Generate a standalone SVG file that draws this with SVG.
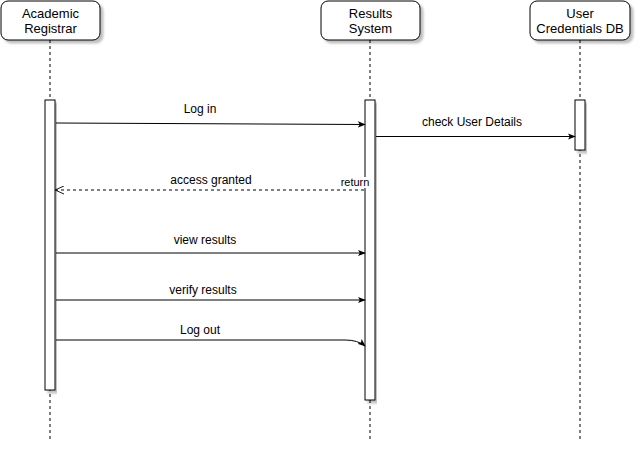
<svg xmlns="http://www.w3.org/2000/svg" width="642" height="452" viewBox="0 0 642 452">
<defs>
<filter id="sh" x="-10%" y="-10%" width="130%" height="130%">
<feGaussianBlur in="SourceAlpha" stdDeviation="1.2"/>
<feOffset dx="2.5" dy="2.5" result="b"/>
<feComponentTransfer><feFuncA type="linear" slope="0.25"/></feComponentTransfer>
<feMerge><feMergeNode/><feMergeNode in="SourceGraphic"/></feMerge>
</filter>
<marker id="fa" viewBox="0 0 10 10" refX="9" refY="5" markerWidth="8" markerHeight="8" orient="auto" markerUnits="userSpaceOnUse">
<path d="M0,1 L10,5 L0,9 L2.5,5 Z" fill="#000"/>
</marker>
<marker id="oa" viewBox="0 0 10 10" refX="9" refY="5" markerWidth="9" markerHeight="9" orient="auto" markerUnits="userSpaceOnUse">
<path d="M0,0.5 L10,5 L0,9.5" fill="none" stroke="#000" stroke-width="1"/>
</marker>
</defs>
<style>
.box{fill:#fff;stroke:#000;stroke-width:1;filter:url(#sh)}
.act{fill:#fff;stroke:#000;stroke-width:1;filter:url(#sh)}
.life{stroke:#000;stroke-width:1;stroke-dasharray:3 3;fill:none}
.msg{stroke:#000;stroke-width:1;fill:none;marker-end:url(#fa)}
.ret{stroke:#000;stroke-width:1;fill:none;stroke-dasharray:3 3;marker-end:url(#oa)}
.nt{font-family:"Liberation Sans",Arial,sans-serif;font-size:13px;text-anchor:middle;fill:#000}
.lt{font-family:"Liberation Sans",Arial,sans-serif;font-size:12px;text-anchor:middle;fill:#000}
.rt{font-family:"Liberation Sans",Arial,sans-serif;font-size:11px;text-anchor:middle;fill:#000}
</style>
<rect width="642" height="452" fill="#fff"/>
<g id="registrar">
<line class="life" x1="50" y1="40" x2="50" y2="440"/>
<rect class="box" x="1" y="1" width="99" height="39" rx="7"/>
<text class="nt" x="50.5" y="18">Academic</text>
<text class="nt" x="50.5" y="33">Registrar</text>
<rect class="act" x="45" y="100" width="10" height="290"/>
</g>
<g id="results-system">
<line class="life" x1="370" y1="40" x2="370" y2="440"/>
<rect class="box" x="321" y="1" width="99" height="39" rx="7"/>
<text class="nt" x="370.5" y="18">Results</text>
<text class="nt" x="370.5" y="33">System</text>
<rect class="act" x="365" y="100" width="10" height="300"/>
</g>
<g id="credentials-db">
<line class="life" x1="580" y1="40" x2="580" y2="440"/>
<rect class="box" x="530" y="1" width="100" height="39" rx="7"/>
<text class="nt" x="580" y="18">User</text>
<text class="nt" x="580" y="33">Credentials DB</text>
<rect class="act" x="575" y="100" width="10" height="50"/>
</g>
<g id="connectors">
<path class="msg" d="M56,123 L365,124.5"/>
<text class="lt" x="200" y="113">Log in</text>
<path class="msg" d="M376,136.5 L575,136.5"/>
<text class="lt" x="472" y="126">check User Details</text>
<path class="ret" d="M364,190 L56,190"/>
<text class="lt" x="211" y="184">access granted</text>
<rect x="341" y="177" width="29" height="11" fill="#fff"/>
<text class="rt" x="355" y="186">return</text>
<path class="msg" d="M56,253 L365,253"/>
<text class="lt" x="205" y="244">view results</text>
<path class="msg" d="M56,300 L365,300"/>
<text class="lt" x="203" y="294">verify results</text>
<path class="msg" d="M56,340 L345,340 Q358,340 365,346"/>
<text class="lt" x="200" y="334">Log out</text>
</g>
</svg>
